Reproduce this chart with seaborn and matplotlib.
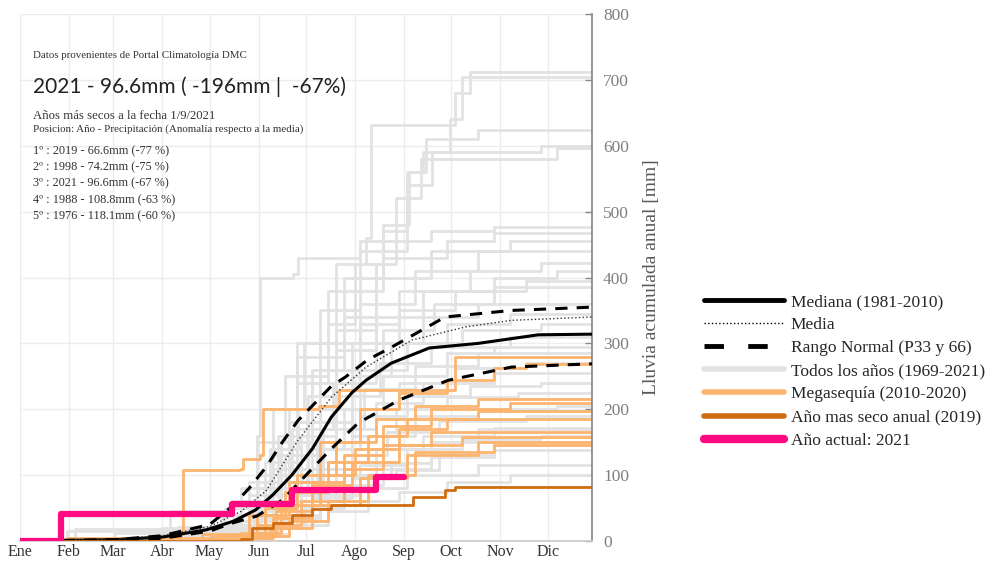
import pandas as pd
import numpy as np
import matplotlib.pyplot as plt
import seaborn as sns
from matplotlib.lines import Line2D

# dias del inicio de cada mes y etiquetas
meses_dia = [0, 31, 59, 90, 120, 151, 181, 212, 243, 273, 304, 334]
meses_txt = ["Ene", "Feb", "Mar", "Abr", "May", "Jun", "Jul", "Ago", "Sep", "Oct", "Nov", "Dic"]

# todos los años (dia, lluvia acumulada mm)
g01 = [(0, 0), (95, 5), (128, 40), (150, 150), (168, 250), (195, 330), (212, 420), (219, 460), (222, 631), (275, 680), (285, 712), (365, 712)]
g02 = [(0, 0), (110, 10), (140, 60), (160, 150), (175, 300), (200, 420), (230, 480), (246, 560), (255, 590), (272, 640), (280, 705), (365, 705)]
g03 = [(0, 0), (100, 8), (130, 50), (150, 100), (175, 280), (205, 400), (230, 470), (245, 560), (257, 610), (290, 624), (365, 624)]
g04 = [(0, 0), (115, 12), (140, 80), (160, 200), (190, 350), (215, 440), (245, 540), (261, 590), (330, 600), (365, 600)]
g05 = [(0, 0), (30, 15), (105, 20), (145, 90), (170, 180), (200, 320), (225, 420), (238, 520), (254, 580), (340, 596), (365, 596)]
g06 = [(0, 0), (90, 20), (140, 60), (150, 160), (152, 400), (173, 405), (176, 430), (215, 455), (260, 470), (300, 476), (365, 476)]
g07 = [(0, 0), (120, 15), (150, 80), (170, 200), (180, 300), (195, 380), (230, 430), (270, 455), (300, 468), (365, 468)]
g08 = [(0, 0), (35, 18), (100, 22), (135, 60), (165, 150), (185, 260), (205, 340), (225, 400), (260, 440), (310, 456), (365, 456)]
g09 = [(0, 0), (125, 20), (155, 120), (175, 240), (195, 300), (215, 360), (250, 410), (290, 440), (365, 440)]
g10 = [(0, 0), (110, 8), (145, 70), (170, 180), (190, 260), (215, 330), (240, 380), (285, 410), (330, 422), (365, 422)]
g11 = [(0, 0), (130, 25), (160, 130), (182, 220), (200, 290), (225, 340), (255, 380), (300, 400), (340, 410), (365, 410)]
g12 = [(0, 0), (105, 10), (140, 50), (163, 160), (185, 240), (210, 300), (240, 350), (275, 380), (320, 395), (365, 395)]
g13 = [(0, 0), (95, 45), (135, 50), (158, 140), (176, 200), (200, 260), (230, 320), (262, 360), (300, 385), (365, 385)]
g14 = [(0, 0), (120, 20), (150, 100), (172, 170), (198, 240), (225, 300), (255, 340), (290, 360), (365, 365)]
g15 = [(0, 0), (140, 40), (160, 110), (185, 180), (210, 250), (235, 300), (270, 330), (310, 345), (365, 345)]
g16 = [(0, 0), (115, 15), (148, 60), (168, 130), (190, 200), (215, 260), (245, 300), (280, 320), (330, 330), (365, 330)]
g17 = [(0, 0), (125, 25), (155, 90), (178, 160), (200, 220), (228, 270), (260, 295), (310, 310), (365, 310)]
g18 = [(0, 0), (132, 20), (160, 70), (182, 140), (205, 200), (230, 250), (270, 285), (300, 295), (365, 295)]
g19 = [(0, 0), (108, 10), (145, 40), (170, 100), (192, 170), (218, 230), (250, 265), (290, 285), (365, 285)]
g20 = [(0, 0), (138, 30), (165, 80), (188, 150), (210, 200), (240, 240), (275, 262), (320, 270), (365, 270)]
g21 = [(0, 0), (60, 12), (120, 14), (152, 50), (175, 110), (200, 170), (225, 210), (255, 240), (300, 255), (365, 255)]
g22 = [(0, 0), (145, 35), (170, 90), (192, 140), (215, 190), (245, 220), (285, 235), (330, 240), (365, 240)]
g23 = [(0, 0), (128, 15), (160, 60), (185, 110), (210, 160), (238, 200), (270, 218), (315, 225), (365, 225)]
g24 = [(0, 0), (140, 20), (168, 70), (195, 120), (220, 160), (250, 190), (290, 200), (340, 205), (365, 205)]
g25 = [(0, 0), (118, 10), (150, 45), (178, 90), (205, 130), (232, 165), (265, 182), (320, 190), (365, 190)]
g26 = [(0, 0), (150, 25), (175, 60), (200, 100), (225, 140), (255, 160), (300, 172), (365, 175)]
g27 = [(0, 0), (135, 15), (165, 40), (190, 80), (215, 115), (245, 140), (280, 155), (330, 160), (365, 160)]
g28 = [(0, 0), (155, 20), (180, 50), (205, 85), (230, 110), (260, 128), (300, 138), (365, 140)]
g29 = [(0, 0), (125, 10), (160, 30), (190, 55), (215, 80), (245, 100), (290, 115), (365, 120)]
g30 = [(0, 0), (140, 10), (170, 25), (195, 45), (220, 60), (240, 74), (270, 90), (310, 100), (365, 100)]
g31 = [(0, 0), (130, 12), (165, 35), (190, 70), (215, 95), (238, 108), (265, 130), (300, 145), (365, 150)]
g32 = [(0, 0), (120, 8), (160, 30), (185, 65), (210, 95), (235, 118), (260, 150), (290, 170), (365, 180)]
grises = [g01, g02, g03, g04, g05, g06, g07, g08, g09, g10, g11, g12, g13, g14, g15, g16,
          g17, g18, g19, g20, g21, g22, g23, g24, g25, g26, g27, g28, g29, g30, g31, g32]

# megasequia 2010-2020
o01 = [(0, 0), (101, 10), (103, 108), (139, 110), (141, 125), (152, 130), (154, 200), (189, 205), (202, 229), (273, 229), (275, 279), (365, 279)]
o02 = [(0, 0), (120, 5), (150, 40), (170, 90), (190, 150), (215, 200), (240, 225), (270, 244), (300, 262), (320, 268), (365, 268)]
o03 = [(0, 0), (125, 8), (155, 50), (175, 100), (200, 150), (225, 185), (250, 205), (290, 215), (365, 218)]
o04 = [(0, 0), (130, 5), (160, 35), (185, 90), (205, 130), (230, 175), (260, 200), (310, 210), (365, 210)]
o05 = [(0, 0), (115, 10), (145, 40), (168, 75), (195, 120), (220, 160), (245, 185), (290, 198), (365, 200)]
o06 = [(0, 0), (140, 12), (165, 55), (190, 100), (212, 140), (240, 170), (270, 185), (365, 190)]
o07 = [(0, 0), (120, 6), (150, 25), (178, 60), (205, 110), (230, 145), (260, 165), (365, 172)]
o08 = [(0, 0), (135, 10), (162, 45), (185, 85), (210, 120), (240, 145), (280, 158), (365, 160)]
o09 = [(0, 0), (128, 4), (158, 20), (185, 55), (215, 95), (245, 130), (290, 150), (365, 152)]
o10 = [(0, 0), (30, 5), (150, 8), (170, 30), (195, 60), (220, 100), (250, 135), (300, 145), (365, 147)]
naranjos = [o01, o02, o03, o04, o05, o06, o07, o08, o09, o10]

# año mas seco (2019) y año actual (2021)
seco_dias = [0, 140, 147, 160, 172, 185, 197, 249, 269, 275, 365]
seco_mm = [0, 3, 20, 28, 40, 48, 55, 67, 77, 82, 82]
actual_dias = [0, 26, 134, 172, 225, 243]
actual_mm = [0, 41, 56, 77, 97, 97]

# estadisticos
mediana_dias = [0, 30, 60, 90, 118, 135, 149, 160, 172, 185, 197, 210, 219, 235, 259, 290, 328, 362]
mediana_mm = [0, 1, 2, 6, 17, 30, 47, 70, 100, 140, 188, 225, 244, 270, 293, 300, 313, 314]
media_dias = [0, 60, 90, 120, 140, 156, 176, 197, 219, 248, 282, 311, 362]
media_mm = [0, 3, 8, 22, 45, 77, 153, 218, 264, 305, 325, 335, 340]
p66_dias = [0, 60, 90, 120, 134, 145, 156, 166, 176, 197, 206, 220, 235, 269, 311, 362]
p66_mm = [0, 2, 8, 25, 52, 80, 113, 150, 183, 235, 249, 275, 294, 340, 350, 355]
p33_dias = [0, 60, 90, 120, 134, 150, 166, 181, 197, 214, 240, 271, 311, 362]
p33_mm = [0, 1, 4, 15, 27, 38, 62, 100, 140, 179, 214, 244, 264, 269]

ranking = ["1º : 2019 - 66.6mm (-77 %)", "2º : 1998 - 74.2mm (-75 %)", "3º : 2021 - 96.6mm (-67 %)",
           "4º : 1988 - 108.8mm (-63 %)", "5º : 1976 - 118.1mm (-60 %)"]

c_gris = "#e2e2e2"
c_nar = "#fdb46e"
c_seco = "#cf6c10"
c_rosa = "#ff0a80"

sns.set_theme(style="white")
plt.rcParams['font.family'] = ['Liberation Serif', 'DejaVu Serif']

fig = plt.figure(figsize=(9.87, 5.62), dpi=100)
ax = fig.add_axes([20/987, 21/562, 572/987, 527/562])


def to_df(series):
    filas = []
    for i, s in enumerate(series):
        for d, v in s:
            filas.append((i, d, v))
    return pd.DataFrame(filas, columns=["serie", "dia", "mm"])


sns.lineplot(data=to_df(grises), x="dia", y="mm", units="serie", estimator=None,
             drawstyle="steps-post", color=c_gris, lw=2, legend=False, ax=ax, zorder=1)
sns.lineplot(data=to_df(naranjos), x="dia", y="mm", units="serie", estimator=None,
             drawstyle="steps-post", color=c_nar, lw=2, legend=False, ax=ax, zorder=2)
sns.lineplot(x=mediana_dias, y=mediana_mm, color="black", lw=2.2, ax=ax, zorder=4)
sns.lineplot(x=media_dias, y=media_mm, color="#333333", lw=1, linestyle=":", ax=ax, zorder=4)
sns.lineplot(x=p66_dias, y=p66_mm, color="black", lw=2.2, linestyle=(0, (4, 3)), ax=ax, zorder=4)
sns.lineplot(x=p33_dias, y=p33_mm, color="black", lw=2.2, linestyle=(0, (4, 3)), ax=ax, zorder=4)
sns.lineplot(x=seco_dias, y=seco_mm, drawstyle="steps-post", color=c_seco, lw=2, ax=ax, zorder=5)
sns.lineplot(x=actual_dias, y=actual_mm, drawstyle="steps-post", color=c_rosa, lw=4.5, ax=ax, zorder=6)

ax.set_xlim(0, 362)
ax.set_ylim(0, 800)
ax.set_xticks(meses_dia)
ax.set_xticklabels(meses_txt)
ax.set_yticks(range(0, 801, 100))
ax.yaxis.tick_right()
ax.yaxis.set_label_position("right")
ax.tick_params(axis="y", direction="in", length=5, width=1, color="#888888", labelcolor="#7f7f7f",
               labelsize=12.5, pad=8)
ax.tick_params(axis="x", length=0, labelsize=11.5, labelcolor="#333333", pad=2)
ax.set_xlabel("")
ax.set_ylabel("Lluvia acumulada anual [mm]", color="#595959", fontsize=14, labelpad=10)
ax.grid(True, color="#ececec", lw=1)
for s in ["left", "top"]:
    ax.spines[s].set_visible(False)
ax.spines["right"].set_color("#888888")
ax.spines["bottom"].set_color("#cccccc")

# textos
fig.text(33/987, 1-56/562, "Datos provenientes de Portal Climatología DMC", fontsize=7.8, color="#333333", va="center")
fig.text(33/987, 1-87/562, "2021 - 96.6mm ( -196mm |  -67%)", fontsize=15, color="#222222", va="center", family="Lato")
fig.text(33/987, 1-116/562, "Años más secos a la fecha 1/9/2021", fontsize=9.2, color="#333333", va="center")
fig.text(33/987, 1-129/562, "Posicion: Año - Precipitación (Anomalía respecto a la media)", fontsize=7.9, color="#333333", va="center")
for i, t in enumerate(ranking):
    fig.text(33/987, 1-(151+16.3*i)/562, t, fontsize=8.8, color="#333333", va="center")

handles = [Line2D([], [], color="black", lw=3.5),
           Line2D([], [], color="black", lw=1, linestyle=":"),
           Line2D([], [], color="black", lw=3.5, linestyle=(0, (4, 5))),
           Line2D([], [], color=c_gris, lw=4),
           Line2D([], [], color=c_nar, lw=4),
           Line2D([], [], color=c_seco, lw=4),
           Line2D([], [], color=c_rosa, lw=6)]
labels = ["Mediana (1981-2010)", "Media", "Rango Normal (P33 y 66)", "Todos los años (1969-2021)",
          "Megasequía (2010-2020)", "Año mas seco anual (2019)", "Año actual: 2021"]
fig.legend(handles, labels, loc="upper left", bbox_to_anchor=(697/987, 1-287/562), frameon=False,
           fontsize=12.5, handlelength=4.6, handletextpad=0.4, labelspacing=0.4, borderaxespad=0)

fig.savefig("out.png", dpi=100)
